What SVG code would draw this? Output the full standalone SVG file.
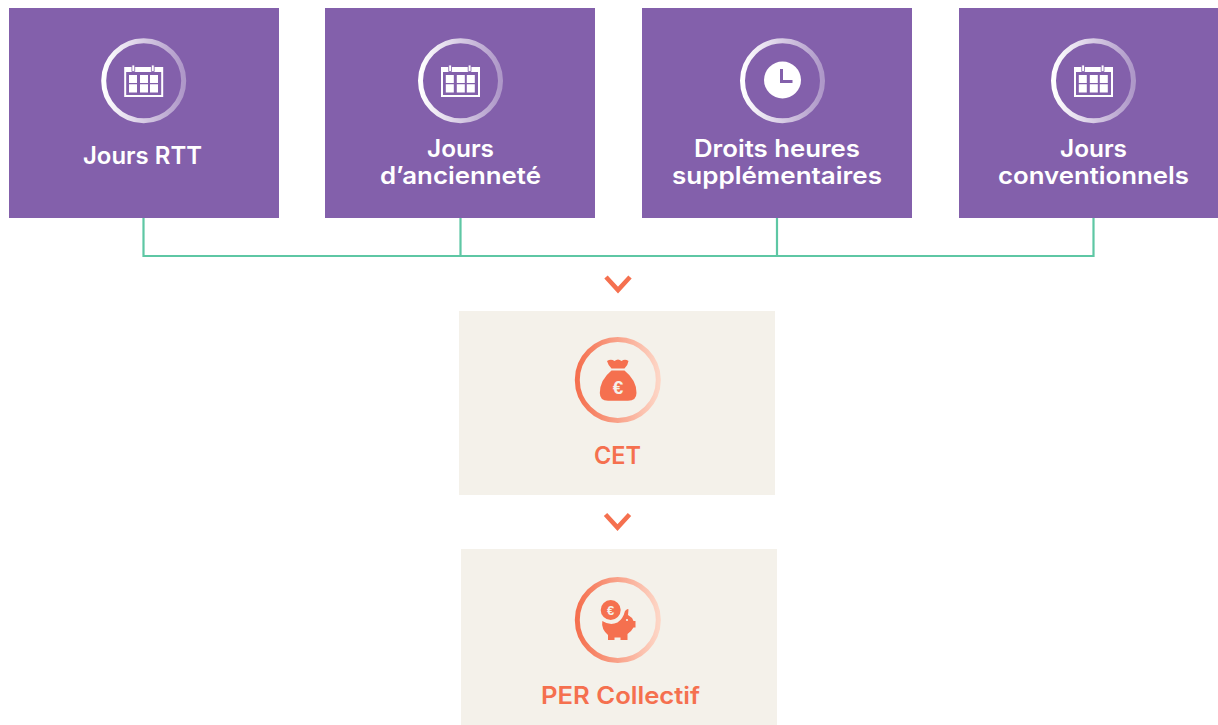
<svg xmlns="http://www.w3.org/2000/svg" width="1218" height="725" viewBox="0 0 1218 725">
<style>
.box{fill:#8360ab}
.beige{fill:#f4f1ea}
.t{font-family:"Inter","Liberation Sans",sans-serif;font-weight:600;font-size:24px;text-anchor:middle;fill:#fff}
.ot{fill:#f5704f}
.o{fill:#f5704f}
.ring{fill:none;stroke-width:5}
.wring{stroke:url(#gw)}
.oring{stroke:url(#go)}
.conn{fill:none;stroke:#5ec7a4;stroke-width:2.2}
.chev{fill:none;stroke:#f5704f;stroke-width:4.600}
</style>
<defs>
<linearGradient id="gw" x1="0" y1="0" x2="1" y2="0"><stop offset="0" stop-color="#fff"/><stop offset="1" stop-color="#fff" stop-opacity=".35"/></linearGradient>
<linearGradient id="go" x1="0" y1="0" x2="1" y2="0"><stop offset="0" stop-color="#f5704f"/><stop offset="1" stop-color="#fdd5c5"/></linearGradient>
<g id="cal">
<path fill="#fff" fill-rule="evenodd" d="M-19.500-14H19.500V16H-19.500ZM-17.500-9V14H17.500V-9Z"/>
<path fill="#fff" d="M-14.700-6H-6.700V2H-14.700ZM-3.700-6H4.300V2H-3.700ZM6.300-6H14.300V2H6.300ZM-14.700 3.200H-6.700V11.500H-14.700ZM-3.700 3.200H4.300V11.500H-3.700ZM6.300 3.200H14.300V11.500H6.300Z"/>
<path fill="#fff" stroke="#8360ab" stroke-width=".8" d="M-11.800-16H-9V-9.500H-11.800ZM7.700-16H10.500V-9.500H7.700Z"/>
</g>
</defs>
<g id="connectors">
<path class="conn" d="M143.500 218V256H1093.500V218M460.500 218V256M777 218V256"/>
<path class="chev" d="M606 277L618 290L630 277"/>
<path class="chev" d="M605.500 514.500L617.500 527.500L629.500 514.500"/>
</g>
<g id="node-rtt">
<rect class="box" x="9" y="8" width="270" height="210"/>
<circle class="ring wring" cx="143.700" cy="80.700" r="40"/>
<use href="#cal" x="143.700" y="81"/>
<text class="t" x="142.500" y="164" textLength="119" lengthAdjust="spacingAndGlyphs">Jours RTT</text>
</g>
<g id="node-anciennete">
<rect class="box" x="325" y="8" width="270" height="210"/>
<circle class="ring wring" cx="460.500" cy="80.700" r="40"/>
<use href="#cal" x="460.500" y="81"/>
<text class="t" x="460.500" y="157" textLength="67" lengthAdjust="spacingAndGlyphs">Jours</text>
<text class="t" x="460.500" y="184" textLength="161" lengthAdjust="spacingAndGlyphs">d’ancienneté</text>
</g>
<g id="node-heures">
<rect class="box" x="642" y="8" width="270" height="210"/>
<circle class="ring wring" cx="782.500" cy="80.700" r="40"/>
<circle cx="782.500" cy="80" r="18.500" fill="#fff"/>
<path d="M781.500 69V81.500H792.500" fill="none" stroke="#8360ab" stroke-width="3"/>
<text class="t" x="777" y="157" textLength="166" lengthAdjust="spacingAndGlyphs">Droits heures</text>
<text class="t" x="777" y="184" textLength="210" lengthAdjust="spacingAndGlyphs">supplémentaires</text>
</g>
<g id="node-conventionnels">
<rect class="box" x="959" y="8" width="259" height="210"/>
<circle class="ring wring" cx="1093.500" cy="80.700" r="40"/>
<use href="#cal" x="1093.500" y="81"/>
<text class="t" x="1093.500" y="157" textLength="67" lengthAdjust="spacingAndGlyphs">Jours</text>
<text class="t" x="1093.500" y="184" textLength="191" lengthAdjust="spacingAndGlyphs">conventionnels</text>
</g>
<g id="node-cet">
<rect class="beige" x="459" y="311" width="316" height="184"/>
<circle class="ring oring" cx="617.800" cy="380" r="40.500"/>
<path class="o" d="M607 361Q611 358.500 614.500 361Q618 358 621.500 361Q625 358.500 628.500 361Q628 365 624.500 368.500H611.500Q608 365 607 361Z"/>
<path class="o" d="M611.500 370.500H624.500Q636.500 380 636.500 393Q636.500 400.700 628 400.700H608Q599.800 400.700 599.800 393Q599.800 380 611.500 370.500Z"/>
<text x="618" y="393.500" font-family="'Liberation Sans',sans-serif" font-weight="700" font-size="19" text-anchor="middle" fill="#f4f1ea">€</text>
<text class="t ot" x="617.500" y="464" textLength="47" lengthAdjust="spacingAndGlyphs">CET</text>
</g>
<g id="node-per">
<rect class="beige" x="461" y="549" width="316" height="176"/>
<circle class="ring oring" cx="617.800" cy="620" r="40.500"/>
<circle class="o" cx="610.700" cy="610" r="10"/>
<text x="610.700" y="614.500" font-family="'Liberation Sans',sans-serif" font-weight="700" font-size="13" text-anchor="middle" fill="#f4f1ea">€</text>
<path class="o" d="M602.300 621Q610 626 617.500 622.500Q623 619 625 611Q628 608 628.500 609.500L628 615Q632 617 633.500 621H635.500V627.500H633.500Q631 632 627.500 634V640H620.500V637.500H614.500V640H608V635Q601 629 602.300 621Z"/>
<circle cx="627" cy="620" r="1.100" fill="#f4f1ea"/>
<text class="t ot" x="620.500" y="704" textLength="159" lengthAdjust="spacingAndGlyphs">PER Collectif</text>
</g>
</svg>
